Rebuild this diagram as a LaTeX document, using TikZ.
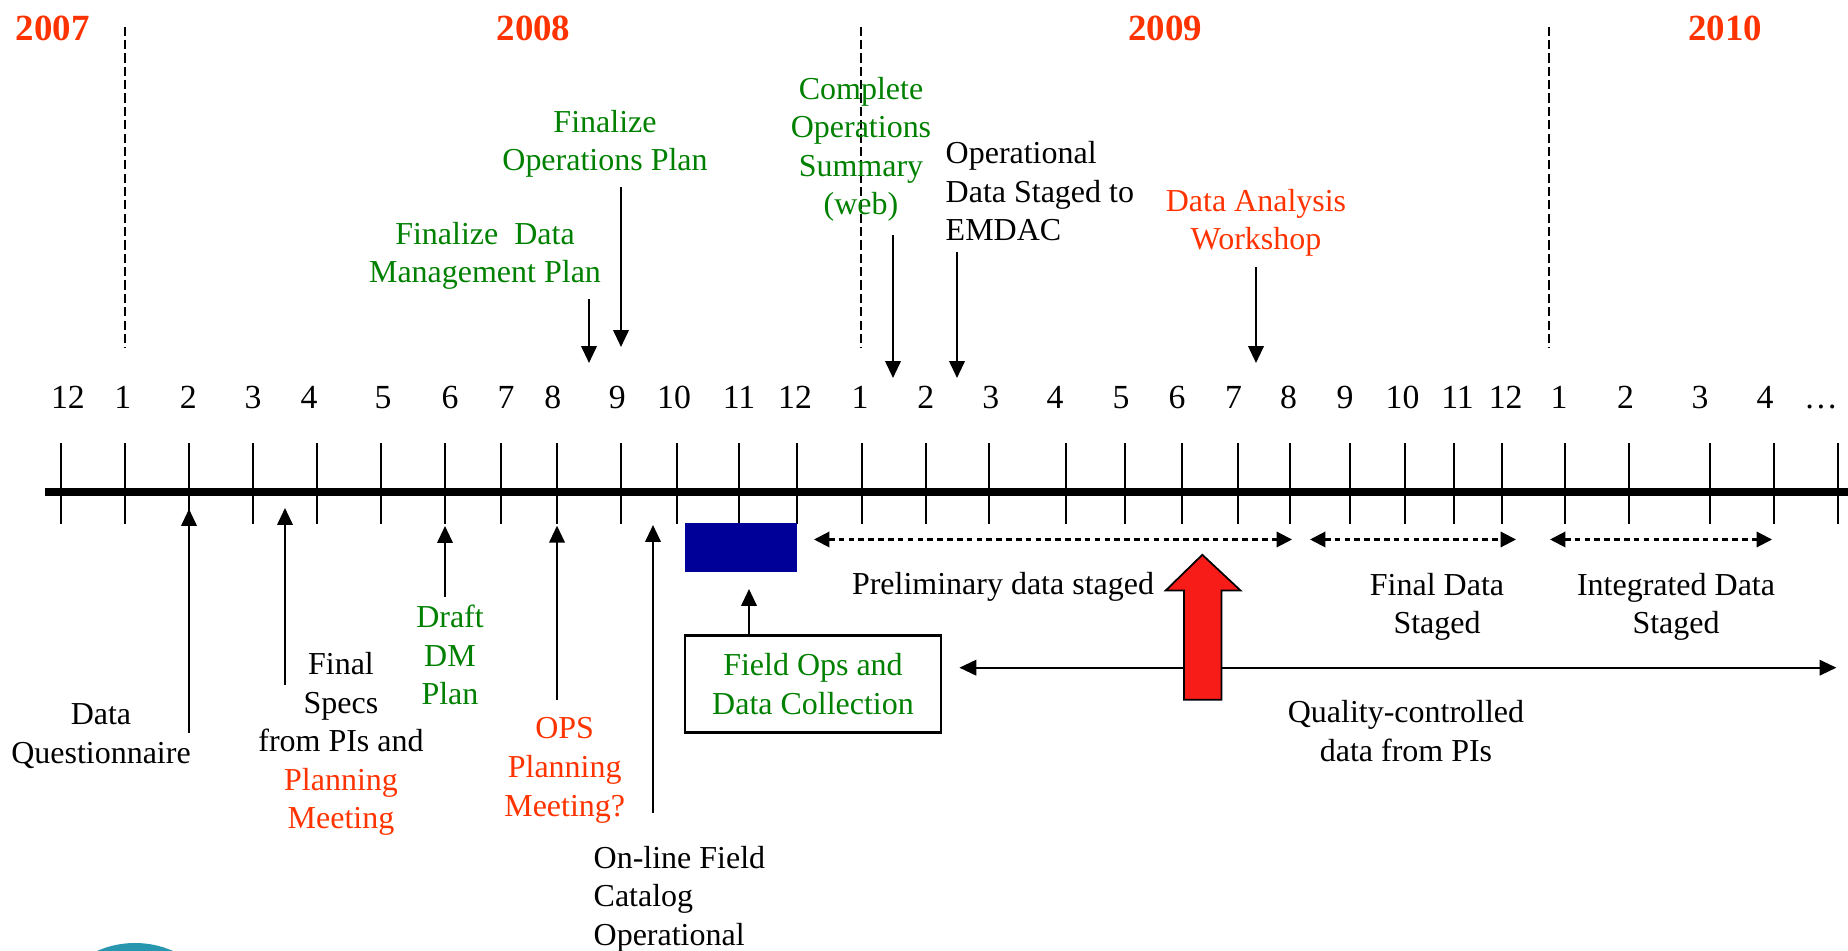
\documentclass[tikz,border=0pt]{standalone}
\usepackage{fontspec}
\setmainfont{Liberation Serif}
\usetikzlibrary{arrows.meta}

\definecolor{yearred}{RGB}{255,51,0}
\definecolor{plangreen}{RGB}{0,128,0}
\definecolor{opsblue}{RGB}{0,0,153}
\definecolor{bigred}{RGB}{248,28,24}
\definecolor{logoteal}{RGB}{40,150,175}

\newcommand\txt{\fontsize{9.1pt}{11pt}\selectfont}

\begin{document}
\begin{tikzpicture}

\tikzstyle year=[inner sep=0pt, anchor=base, text=yearred, font=\fontsize{10.5pt}{12pt}\selectfont\bfseries]
\tikzstyle month=[inner sep=0pt, anchor=base, font=\fontsize{9.6pt}{11pt}\selectfont]
\tikzstyle note=[inner sep=0pt, anchor=base, align=center, font=\txt]
\tikzstyle plan=[note, text=plangreen]
\tikzstyle meet=[note, text=yearred]
\tikzstyle box=[draw, line width=0.8pt, minimum width=2.56cm, minimum height=0.964cm, align=center, text=plangreen, font=\txt]
\tikzstyle arr=[-{Triangle[length=4.8pt,width=4.4pt]}, line width=0.6pt]
\tikzstyle span=[{Triangle[length=4.4pt,width=4.4pt]}-{Triangle[length=4.4pt,width=4.4pt]}, line width=0.6pt, dash pattern=on 1.6pt off 1.2pt]
\tikzstyle yearline=[line width=0.6pt, dash pattern=on 2.6pt off 1.2pt]

\useasboundingbox (0,0) rectangle (18.48,-9.51);

% years
\node (y2007) [year] at (0.527,-0.407) {2007};
\node (y2008) [year] at (5.335,-0.407) {2008};
\node (y2009) [year] at (11.65,-0.407) {2009};
\node (y2010) [year] at (17.25,-0.407) {2010};

\foreach \x in {1.25,8.61,15.49}
  \draw [yearline] (\x,-0.267) -- (\x,-3.48);

% time axis
\draw [line width=2pt] (0.45,-4.92) -- (18.48,-4.92);
\foreach \x in {0.61,1.25,1.89,2.53,3.17,3.81,4.45,5.01,5.57,6.21,6.77,7.39,7.97,8.62,9.26,9.89,10.66,11.25,11.82,12.38,12.90,13.50,14.05,14.54,15.02,15.65,16.29,17.10,17.74,18.38}
  \draw [line width=0.5pt] (\x,-4.43) -- (\x,-5.24);

\foreach \x/\m [count=\i] in {0.679/12,1.228/1,1.884/2,2.53/3,3.09/4,3.83/5,4.50/6,5.06/7,5.527/8,6.174/9,6.74/10,7.39/11,7.95/12,8.60/1,9.258/2,9.907/3,10.55/4,11.21/5,11.77/6,12.336/7,12.886/8,13.45/9,14.025/10,14.575/11,15.056/12,15.59/1,16.255/2,17.00/3,17.65/4,18.21/\dots}
  \node (m\i) [month] at (\x,-4.084) {\m};

% milestones above the axis
\node (opsplan) [plan] at (6.05,-1.71) {Finalize\\Operations Plan};
\node (dmplan) [plan] at (4.85,-2.83) {Finalize\ \ Data\\Management Plan};
\node (summary) [plan] at (8.61,-2.15) {Complete\\Operations\\Summary\\(web)};
\node (emdac) [note, anchor=base west, align=left] at (9.45,-2.41) {Operational\\Data Staged to\\EMDAC};
\node (workshop) [meet] at (12.56,-2.50) {Data Analysis\\Workshop};

\coordinate (opsplan-a) at (6.21,-1.87);
\coordinate (opsplan-b) at (6.21,-3.47);
\coordinate (dmplan-a) at (5.89,-2.99);
\coordinate (dmplan-b) at (5.89,-3.63);
\coordinate (summary-a) at (8.93,-2.35);
\coordinate (summary-b) at (8.93,-3.78);
\coordinate (emdac-a) at (9.57,-2.52);
\coordinate (emdac-b) at (9.57,-3.78);
\coordinate (workshop-a) at (12.56,-2.67);
\coordinate (workshop-b) at (12.56,-3.63);

\foreach \n in {opsplan,dmplan,summary,emdac,workshop}
  \draw [arr] (\n-a) -- (\n-b);

% milestones below the axis
\node (quest) [note] at (1.01,-7.634) {Data\\Questionnaire};
\node (specs) [note] at (3.41,-8.29) {Final\\Specs\\from PIs and\\\textcolor{yearred}{Planning}\\\textcolor{yearred}{Meeting}};
\node (draft) [plan] at (4.50,-7.05) {Draft\\DM\\Plan};
\node (opsmeet) [meet] at (5.647,-8.162) {OPS\\Planning\\Meeting?};
\node (catalog) [note, anchor=base west, align=left] at (5.93,-9.455) {On-line Field\\Catalog\\Operational};

\coordinate (quest-a) at (1.89,-7.33);
\coordinate (quest-b) at (1.89,-5.09);
\coordinate (specs-a) at (2.85,-6.85);
\coordinate (specs-b) at (2.85,-5.08);
\coordinate (draft-a) at (4.45,-5.97);
\coordinate (draft-b) at (4.45,-5.26);
\coordinate (opsmeet-a) at (5.57,-7.005);
\coordinate (opsmeet-b) at (5.57,-5.257);
\coordinate (catalog-a) at (6.53,-8.126);
\coordinate (catalog-b) at (6.53,-5.25);

\foreach \n in {quest,specs,draft,opsmeet,catalog}
  \draw [arr] (\n-a) -- (\n-b);

% field campaign
\node (fieldblock) [fill=opsblue, inner sep=0pt, minimum width=1.124cm, minimum height=0.49cm] at (7.412,-5.475) {};
\node (fieldbox) [box] at (8.13,-6.84) {Field Ops and\\Data Collection};
\coordinate (fieldtip) at (7.49,-5.89);
\draw [arr] (fieldbox.north -| fieldtip) -- (fieldtip);

% data staging
\coordinate (pre-l) at (8.14,-5.395);
\coordinate (pre-r) at (12.92,-5.395);
\coordinate (fin-l) at (13.10,-5.395);
\coordinate (fin-r) at (15.16,-5.395);
\coordinate (int-l) at (15.50,-5.395);
\coordinate (int-r) at (17.72,-5.395);
\draw [span] (pre-l) -- (pre-r);
\draw [span] (fin-l) -- (fin-r);
\draw [span] (int-l) -- (int-r);

\node (prelim) [note] at (10.03,-5.95) {Preliminary data staged};
\node (final) [note] at (14.37,-6.34) {Final Data\\Staged};
\node (integ) [note] at (16.76,-6.34) {Integrated Data\\Staged};

\coordinate (qc-l) at (9.594,-6.677);
\coordinate (qc-r) at (18.364,-6.677);
\draw [{Triangle[length=4.8pt,width=4.4pt]}-{Triangle[length=4.8pt,width=4.4pt]}, line width=0.6pt] (qc-l) -- (qc-r);
\node (qc) [note] at (14.06,-7.616) {Quality-controlled\\data from PIs};

\draw [fill=bigred, line width=0.5pt, line join=miter]
  (12.023,-5.548) -- (12.405,-5.905) -- (12.214,-5.905) -- (12.214,-6.997)
  -- (11.84,-6.997) -- (11.84,-5.905) -- (11.657,-5.905) -- cycle;

% logo edge
\begin{scope}
\clip (0,0) rectangle (18.48,-9.51);
\fill [logoteal] (1.35,-10.37) circle (0.94);
\end{scope}

\end{tikzpicture}
\end{document}
